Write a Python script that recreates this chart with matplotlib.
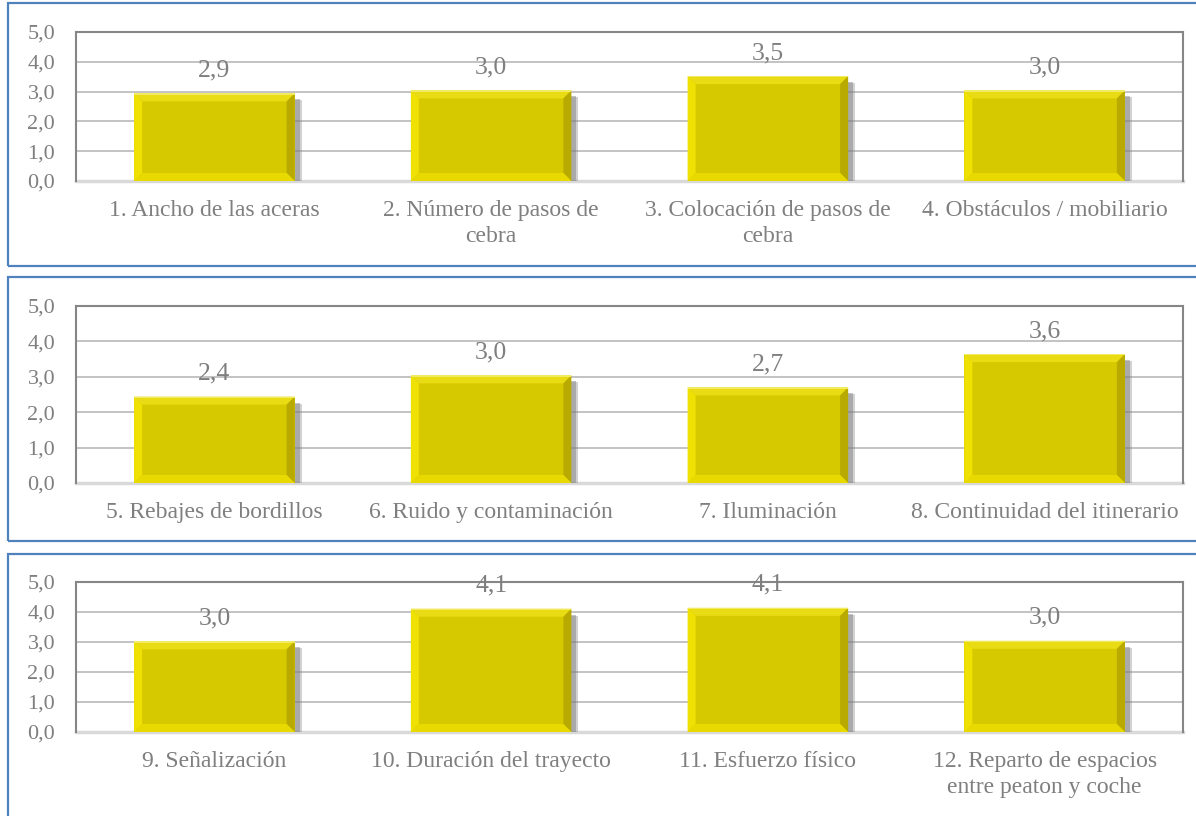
import matplotlib
matplotlib.use("Agg")
import matplotlib.pyplot as plt
from matplotlib.patches import Rectangle, Polygon
from matplotlib.transforms import IdentityTransform

# ---- data ----
categories_1 = ["1. Ancho de las aceras", "2. Número de pasos de\ncebra",
                "3. Colocación de pasos de\ncebra", "4. Obstáculos / mobiliario"]
values_1 = [2.94, 3.04, 3.52, 3.04]

categories_2 = ["5. Rebajes de bordillos", "6. Ruido y contaminación",
                "7. Iluminación", "8. Continuidad del itinerario"]
values_2 = [2.44, 3.04, 2.70, 3.64]

categories_3 = ["9. Señalización", "10. Duración del trayecto",
                "11. Esfuerzo físico", "12. Reparto de espacios\nentre peaton y coche"]
values_3 = [3.02, 4.11, 4.14, 3.04]

y_ticks = [0, 1, 2, 3, 4, 5]

# ---- style ----
plt.rcParams["font.family"] = ["Liberation Serif", "DejaVu Serif"]
W, H = 1196, 816
DPI = 100
TXT = "#7f7f7f"
BAR = "#d6c900"

fig = plt.figure(figsize=(W / DPI, H / DPI), dpi=DPI)
fig.patch.set_facecolor("white")

# panel geometry in pixels: box_top, box_bottom, plot_top, plot_bottom
panels = [
    (categories_1, values_1, 3, 266, 32, 181),
    (categories_2, values_2, 277, 541, 306, 483),
    (categories_3, values_3, 554, 830, 582, 732),
]
plot_left, plot_right = 76, 1183
box_left = 8


def fmt(v):
    return f"{v:.1f}".replace(".", ",")


for cats, vals, btop, bbot, ptop, pbot in panels:
    # panel border
    fig.add_artist(Rectangle((box_left / W, 1 - bbot / H), (W + 20 - box_left) / W,
                             (bbot - btop) / H, transform=fig.transFigure,
                             fill=False, edgecolor="#4f81bd", linewidth=1.6,
                             zorder=10))
    ax = fig.add_axes([plot_left / W, 1 - pbot / H, (plot_right - plot_left) / W,
                       (pbot - ptop) / H])
    x = list(range(len(cats)))
    bars = ax.bar(x, vals, width=0.58, color=BAR, zorder=2)
    ax.set_xlim(-0.5, len(cats) - 0.5)
    ax.set_ylim(0, 5)
    ax.set_yticks(y_ticks)
    ax.set_yticklabels([fmt(t) for t in y_ticks])
    ax.set_xticks(x)
    ax.set_xticklabels(cats, linespacing=1.3)
    ax.tick_params(axis="both", length=0, colors=TXT)
    ax.tick_params(axis="y", pad=15, labelsize=16)
    ax.tick_params(axis="x", pad=14, labelsize=17)
    ax.yaxis.grid(True, color="#c3c3c3", linewidth=1.4, zorder=0.5)
    ax.set_axisbelow(True)
    for s in ("left", "top", "right"):
        ax.spines[s].set_color("#868686")
        ax.spines[s].set_linewidth(1.5)
    ax.spines["bottom"].set_color("#d9d9d9")
    ax.spines["bottom"].set_linewidth(2.5)
    ax.spines["bottom"].set_zorder(1.5)

    # bevel and shadow effects, derived from each bar's drawn geometry
    idt = IdentityTransform()
    for b, v in zip(bars, vals):
        (x0, y0), (x1, y1) = ax.transData.transform(
            [(b.get_x(), 0), (b.get_x() + b.get_width(), b.get_height())])
        sh = Rectangle((x0 + 7, y0 - 3), x1 - x0, (y1 - 7) - (y0 - 3),
                       transform=idt, facecolor="#808080", alpha=0.35,
                       edgecolor="none", zorder=1.8)
        ax.add_patch(sh)
        sh2 = Rectangle((x0 + 5, y0 - 2), x1 - x0, (y1 - 6) - (y0 - 2),
                        transform=idt, facecolor="#7a7a7a", alpha=0.45,
                        edgecolor="none", zorder=1.85)
        ax.add_patch(sh2)
        d = 8
        top = Polygon([(x0, y1), (x1, y1), (x1 - d, y1 - d), (x0 + d, y1 - d)],
                      transform=idt, facecolor="#e9dc14", edgecolor="none", zorder=3)
        left = Polygon([(x0, y0), (x0, y1), (x0 + d, y1 - d), (x0 + d, y0 + d)],
                       transform=idt, facecolor="#efe104", edgecolor="none", zorder=3)
        right = Polygon([(x1, y0), (x1, y1), (x1 - d, y1 - d), (x1 - d, y0 + d)],
                        transform=idt, facecolor="#b8aa00", edgecolor="none", zorder=3)
        bottom = Polygon([(x0, y0), (x1, y0), (x1 - d, y0 + d), (x0 + d, y0 + d)],
                         transform=idt, facecolor="#e8da00", edgecolor="none", zorder=3)
        for p in (top, left, right, bottom):
            ax.add_patch(p)
        ax.add_patch(Rectangle((x0, y1 - 1.2), x1 - x0, 1.2, transform=idt,
                               facecolor="#f2ea60", edgecolor="none", zorder=3.1))
        ax.annotate(fmt(v), (b.get_x() + b.get_width() / 2, v),
                    xytext=(0, 16.5), textcoords="offset points",
                    ha="center", va="center", fontsize=18.5,
                    color=TXT, zorder=4)

fig.savefig("out.png", dpi=DPI)
